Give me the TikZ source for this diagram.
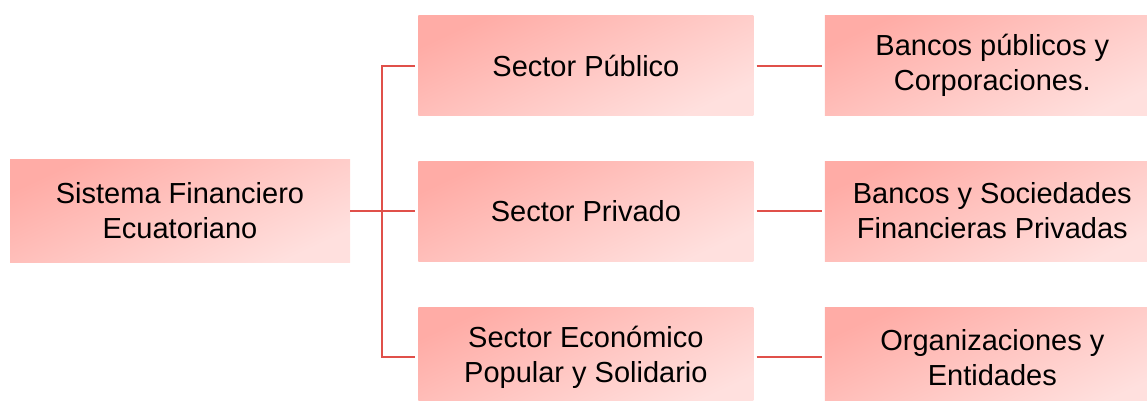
\documentclass[tikz,border=0pt]{standalone}
\usepackage{fontspec}
\setmainfont{Liberation Sans}
\usetikzlibrary{positioning,calc}
\definecolor{boxdark}{RGB}{255,172,166}
\definecolor{boxlight}{RGB}{255,224,222}
\definecolor{linkred}{RGB}{224,80,74}
\tikzstyle{sector} = [rectangle,
minimum width=335pt,
minimum height=100pt,
text centered,
align=center,
inner sep=0pt,
top color=boxdark, bottom color=boxlight, shading angle=25,
font=\fontsize{29}{35}\selectfont]
\tikzstyle{root} = [sector, minimum width=340pt, minimum height=103pt]
\tikzstyle{link} = [draw=linkred, line width=2pt]

\begin{document}
\begin{tikzpicture}
\useasboundingbox (0,0) rectangle (1147pt,-401pt);

% Root node
\node (Sistema) [root] at (180pt,-211pt) {Sistema Financiero\\Ecuatoriano};

% Sectors
\node (Privado) [sector, right=68pt of Sistema] {Sector Privado};
\node (Publico) [sector, above=45pt of Privado] {Sector Público};
\node (Popular) [sector, below=45pt of Privado, yshift=-1pt] {Sector Económico\\Popular y Solidario};

% Institutions
\node (Bancos_Pub) [sector, right=71pt of Publico] {Bancos públicos y\\Corporaciones.};
\node (Bancos_Priv) [sector, right=71pt of Privado] {Bancos y Sociedades\\Financieras Privadas};
\node (Organizaciones) [sector, right=71pt of Popular] {Organizaciones y\\Entidades};

% Tree connections
\coordinate (Split) at ($(Sistema.east)+(32pt,0)$);
\draw [link] (Sistema.east) -- (Split);
\draw [link, shorten <=3pt] (Publico.west) -| (Split) |- ([xshift=-3pt]Popular.west);
\draw [link, shorten >=3pt] (Split) -- (Privado.west);

% Sector to institution
\draw [link, shorten <=3pt, shorten >=3pt] (Publico) -- (Bancos_Pub);
\draw [link, shorten <=3pt, shorten >=3pt] (Privado) -- (Bancos_Priv);
\draw [link, shorten <=3pt, shorten >=3pt] (Popular) -- (Organizaciones);

\end{tikzpicture}
\end{document}
